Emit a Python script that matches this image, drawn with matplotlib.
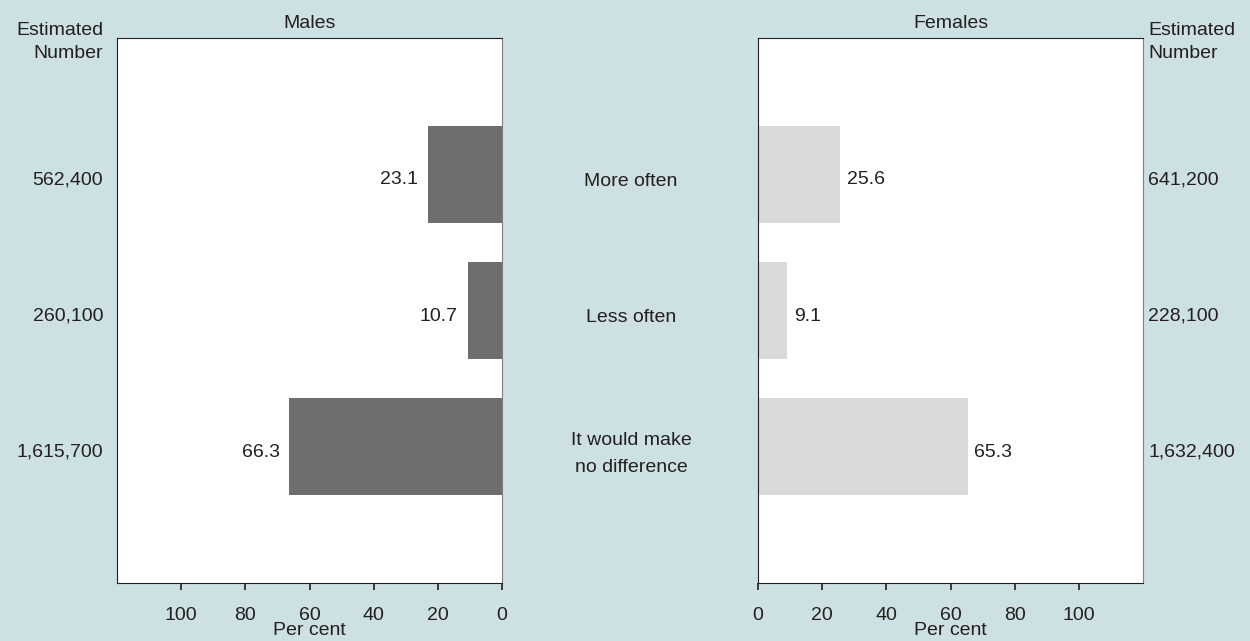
import matplotlib.pyplot as plt

plt.rcParams['font.family'] = ['Liberation Sans', 'DejaVu Sans']
plt.rcParams['font.size'] = 14

categories = ['More often', 'Less often', 'It would make\nno difference']
males_pct = [23.1, 10.7, 66.3]
females_pct = [25.6, 9.1, 65.3]
males_num = ['562,400', '260,100', '1,615,700']
females_num = ['641,200', '228,100', '1,632,400']
ticks = [0, 20, 40, 60, 80, 100]

bg = '#cde0e3'
txt = '#231f20'

fig = plt.figure(figsize=(12.5, 6.41), dpi=100, facecolor=bg)
axL = fig.add_axes([117 / 1250, 58 / 641, 385 / 1250, 545 / 641])
axR = fig.add_axes([758 / 1250, 58 / 641, 385 / 1250, 545 / 641])

ypos = list(range(len(categories)))

for ax, vals, color, title in [(axL, males_pct, '#6d6e70', 'Males'),
                               (axR, females_pct, '#d9dadb', 'Females')]:
    ax.barh(ypos, vals, height=0.71, color=color)
    ax.set_ylim(3, -1)
    ax.set_xlim(0, 120)
    ax.set_yticks([])
    ax.set_xticks(ticks)
    ax.tick_params(axis='x', direction='out', length=5, width=1.2,
                   color=txt, labelcolor=txt, pad=12)
    ax.set_xlabel('Per cent', color=txt, labelpad=-1)
    ax.set_title(title, color=txt, fontsize=14, pad=7)
    for s in ['left', 'top', 'bottom']:
        ax.spines[s].set_color(txt)
    ax.spines['right'].set_color('#7f7f7f')

axL.set_xlim(120, 0)

# value labels beside bar ends
for i in ypos:
    axL.annotate(f'{males_pct[i]:.1f}', (males_pct[i], i), xytext=(-7, -4),
                 textcoords='offset points', ha='right', va='center', color=txt)
    axR.annotate(f'{females_pct[i]:.1f}', (females_pct[i], i), xytext=(5, -4),
                 textcoords='offset points', ha='left', va='center', color=txt)
    axL.annotate(males_num[i], (-0.036, i), xycoords=axL.get_yaxis_transform(),
                 xytext=(0, -4), textcoords='offset points',
                 ha='right', va='center', color=txt)
    axR.annotate(females_num[i], (1.013, i), xycoords=axR.get_yaxis_transform(),
                 xytext=(0, -4), textcoords='offset points',
                 ha='left', va='center', color=txt)
    axL.annotate(categories[i], (1.335, i), xycoords=axL.get_yaxis_transform(),
                 xytext=(0, -5), textcoords='offset points',
                 ha='center', va='center', color=txt, linespacing=1.75)

fig.text(103 / 1250, 1 - 42 / 641, 'Estimated\nNumber', ha='right',
         va='center', color=txt, linespacing=1.45)
fig.text(1148 / 1250, 1 - 42 / 641, 'Estimated\nNumber', ha='left',
         va='center', color=txt, linespacing=1.45)

fig.savefig('out.png', dpi=100, facecolor=bg)
